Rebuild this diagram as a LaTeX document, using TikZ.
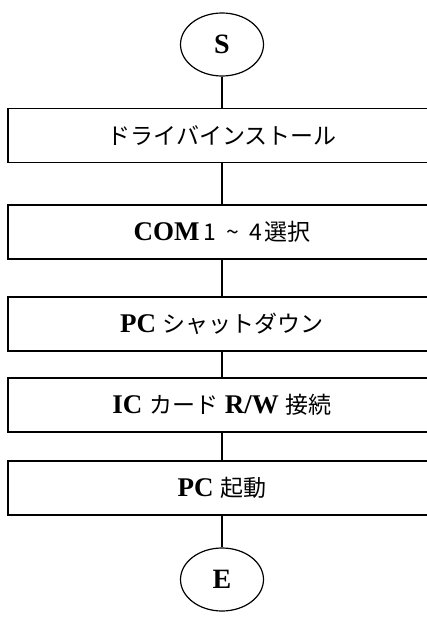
\documentclass[tikz,border=0pt]{standalone}
\usepackage{fontspec}
\usepackage{tikz}
\usetikzlibrary{shapes.geometric}
\setmainfont{Liberation Serif}
\newfontfamily\jfont{Noto Sans CJK JP}
\tikzset{
    step-box/.style = {draw=black, fill=white, line width=1.2pt, rectangle, minimum width=428pt, minimum height=54pt, inner sep=0pt, font=\fontsize{27}{30}\selectfont},
    term-mark/.style = {draw=black, fill=white, line width=1.2pt, ellipse, minimum width=83pt, minimum height=63pt, inner sep=0pt, font=\fontsize{28}{30}\selectfont\bfseries},
    flow-line/.style = {line width=1.2pt},
}
\newcommand{\jp}[1]{{\jfont\mdseries\fontsize{23}{26}\selectfont #1}}

\begin{document}
\begin{tikzpicture}[x=1pt, y=-1pt]
\useasboundingbox (0,0) rectangle (427,617);
\node [term-mark] (start) at (222,44.5) {S};
\node [step-box] (driver) at (222,135.5) {\jp{ドライバインストール}};
\node [step-box] (port) at (222,232) {\bfseries COM\jp{\hspace{0.15em}1\hspace{0.45em}\textasciitilde\hspace{0.45em}4\hspace{0.1em}選択}};
\node [step-box] (shutdown) at (222,324) {\bfseries PC \jp{シャットダウン}};
\node [step-box] (reader) at (222,405) {\bfseries IC \jp{カード} R/W \jp{接続}};
\node [step-box] (boot) at (222,488) {\bfseries PC \jp{起動}};
\node [term-mark] (stop) at (222,579.5) {E};
% connectors
\draw [flow-line] (start) -- (driver);
\draw [flow-line] (driver) -- (port);
\draw [flow-line] (port) -- (shutdown);
\draw [flow-line] (shutdown) -- (reader);
\draw [flow-line] (reader) -- (boot);
\draw [flow-line] (boot) -- (stop);
\end{tikzpicture}
\end{document}
